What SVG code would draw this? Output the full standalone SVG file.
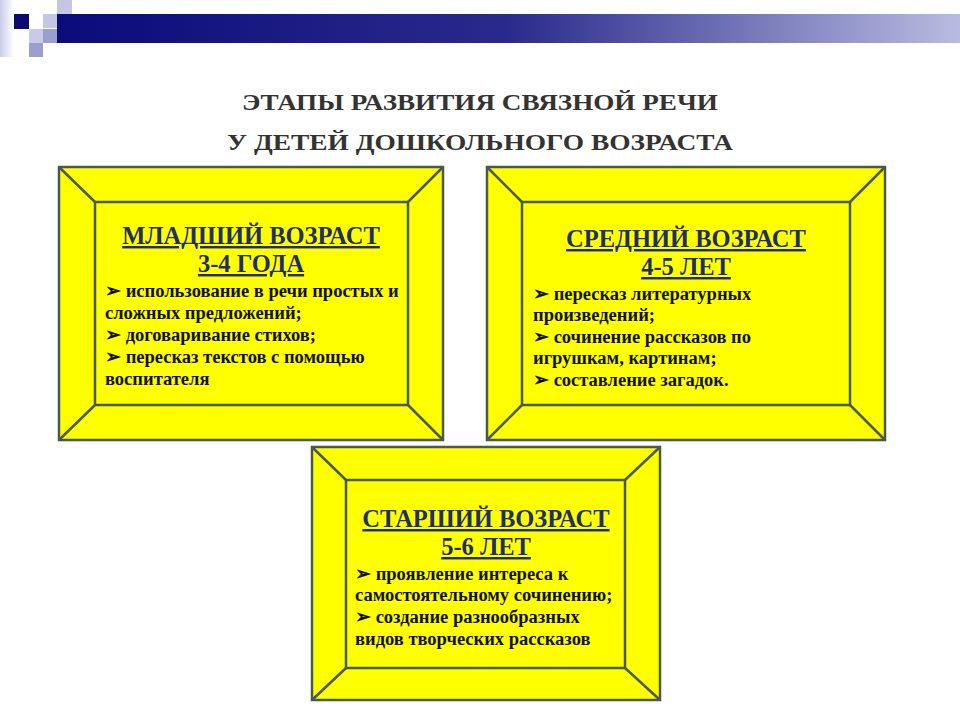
<svg xmlns="http://www.w3.org/2000/svg" width="960" height="720" viewBox="0 0 960 720">
<defs>
<linearGradient id="bar" x1="0" x2="1" y1="0" y2="0"><stop offset="0" stop-color="#0b0b7a"/><stop offset="0.5" stop-color="#2a2a8c"/><stop offset="1" stop-color="#b8bce0"/></linearGradient>
<linearGradient id="fade" x1="0" x2="1"><stop offset="0" stop-color="#c8cce8"/><stop offset="1" stop-color="#fff"/></linearGradient>
</defs>
<style>
.frame{fill:#ffff00;stroke:#4a5a4a;stroke-width:2.5}
.ln{stroke:#4a5a4a;stroke-width:2.5}
.h{font-family:"Liberation Serif",serif;font-weight:bold;font-size:24.5px;fill:#1f2f66;text-anchor:middle;text-decoration:underline}
.t{font-family:"Liberation Serif",serif;font-weight:bold;font-size:18.5px;fill:#111}
.title{font-family:"Liberation Serif",serif;font-weight:bold;font-size:23px;fill:#333;text-anchor:middle}
</style>
<rect width="960" height="720" fill="#fff"/>
<g id="decor">
<rect x="0" y="0" width="14" height="57" fill="url(#fade)"/>
<rect x="57" y="14" width="903" height="29" fill="url(#bar)"/>
<rect x="14" y="14" width="15" height="15" fill="#0b0b6e"/>
<rect x="43" y="14" width="14" height="14" fill="#c4c6e4"/>
<rect x="57" y="0" width="15" height="14" fill="#c4c6e4"/>
<rect x="29" y="29" width="14" height="14" fill="#c8cae6"/>
<rect x="43" y="29" width="14" height="14" fill="#9a9ed0"/>
<rect x="29" y="43" width="14" height="14" fill="#9a9ed0"/>
</g>
<g id="title">
<text class="title" x="480" y="110" textLength="476" lengthAdjust="spacingAndGlyphs">ЭТАПЫ РАЗВИТИЯ СВЯЗНОЙ РЕЧИ</text>
<text class="title" x="480" y="150" textLength="506" lengthAdjust="spacingAndGlyphs">У ДЕТЕЙ ДОШКОЛЬНОГО ВОЗРАСТА</text>
</g>
<g id="box1">
<rect class="frame" x="59" y="167" width="384" height="273"/>
<rect class="frame" x="95" y="202" width="313" height="203"/>
<line class="ln" x1="59" y1="167" x2="95" y2="202"/><line class="ln" x1="443" y1="167" x2="408" y2="202"/>
<line class="ln" x1="59" y1="440" x2="95" y2="405"/><line class="ln" x1="443" y1="440" x2="408" y2="405"/>
<text class="h" x="251" y="244">МЛАДШИЙ ВОЗРАСТ</text>
<text class="h" x="251" y="272">3-4 ГОДА</text>
<text class="t" x="105" y="297">➢ использование в речи простых и</text>
<text class="t" x="105" y="319">сложных предложений;</text>
<text class="t" x="105" y="341">➢ договаривание стихов;</text>
<text class="t" x="105" y="363">➢ пересказ текстов с помощью</text>
<text class="t" x="105" y="385">воспитателя</text>
</g>
<g id="box2">
<rect class="frame" x="487" y="167" width="398" height="273"/>
<rect class="frame" x="522" y="202" width="328" height="203"/>
<line class="ln" x1="487" y1="167" x2="522" y2="202"/><line class="ln" x1="885" y1="167" x2="850" y2="202"/>
<line class="ln" x1="487" y1="440" x2="522" y2="405"/><line class="ln" x1="885" y1="440" x2="850" y2="405"/>
<text class="h" x="686" y="247">СРЕДНИЙ ВОЗРАСТ</text>
<text class="h" x="686" y="275">4-5 ЛЕТ</text>
<text class="t" x="533" y="300">➢ пересказ литературных</text>
<text class="t" x="533" y="321">произведений;</text>
<text class="t" x="533" y="343">➢ сочинение рассказов по</text>
<text class="t" x="533" y="364">игрушкам, картинам;</text>
<text class="t" x="533" y="386">➢ составление загадок.</text>
</g>
<g id="box3">
<rect class="frame" x="312" y="447" width="348" height="253"/>
<rect class="frame" x="346" y="480" width="279" height="188"/>
<line class="ln" x1="312" y1="447" x2="346" y2="480"/><line class="ln" x1="660" y1="447" x2="625" y2="480"/>
<line class="ln" x1="312" y1="700" x2="346" y2="668"/><line class="ln" x1="660" y1="700" x2="625" y2="668"/>
<text class="h" x="486" y="527">СТАРШИЙ ВОЗРАСТ</text>
<text class="h" x="486" y="555">5-6 ЛЕТ</text>
<text class="t" x="355" y="580">➢ проявление интереса к</text>
<text class="t" x="355" y="601">самостоятельному сочинению;</text>
<text class="t" x="355" y="623">➢ создание разнообразных</text>
<text class="t" x="355" y="645">видов творческих рассказов</text>
</g>
</svg>
